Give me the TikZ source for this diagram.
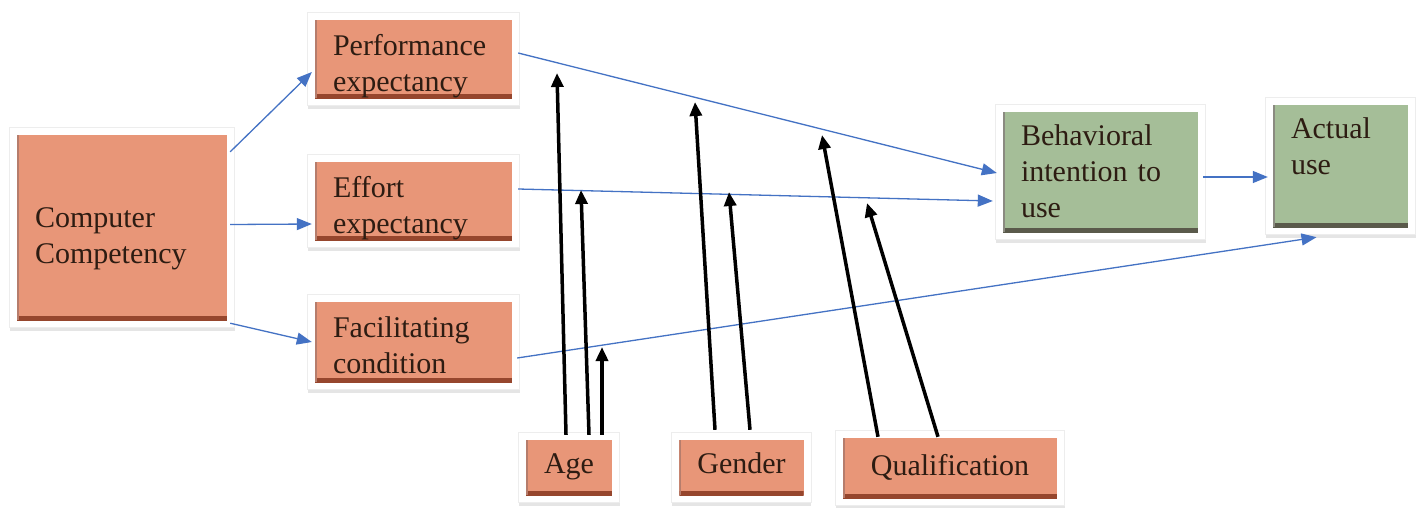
\documentclass[tikz,border=0pt]{standalone}
\usepackage{fontspec}
\setmainfont{Liberation Serif}
\usetikzlibrary{arrows.meta}

\definecolor{salmonfill}{RGB}{232,150,120}
\definecolor{salmonedge}{RGB}{150,70,45}
\definecolor{sagefill}{RGB}{165,190,152}
\definecolor{sageedge}{RGB}{90,90,75}
\definecolor{boxtext}{RGB}{45,28,18}
\definecolor{linkblue}{RGB}{68,114,196}

\tikzset{
    box/.style={rectangle, inner xsep=18pt, inner ysep=0pt,
        font=\fontsize{30}{36}\selectfont, text=boxtext,
        preaction={draw=black!10, line width=15pt, transform canvas={yshift=-3pt}},
        preaction={draw=black!7, line width=16.5pt},
        preaction={draw=white, line width=14pt}},
    orangebox/.style={box, fill=salmonfill,
        path picture={
            \draw[salmonedge, line width=8pt] (path picture bounding box.south west)
                -- (path picture bounding box.south east);
            \draw[salmonedge!70, line width=4pt] (path picture bounding box.south west)
                -- (path picture bounding box.north west);}},
    greenbox/.style={box, fill=sagefill,
        path picture={
            \draw[sageedge, line width=8pt] (path picture bounding box.south west)
                -- (path picture bounding box.south east);
            \draw[sageedge!70, line width=4pt] (path picture bounding box.south west)
                -- (path picture bounding box.north west);}},
    bluelink/.style={draw=linkblue, line width=1.3pt, -{Triangle[length=15pt,width=12pt]}},
    modlink/.style={draw=black, line width=3.5pt, -{Triangle[length=14pt,width=12pt]}}
}

\begin{document}
\begin{tikzpicture}[x=1pt, y=-1pt]
        \useasboundingbox[fill=white] (0,0) rectangle (1426,507);

        % Left column
        \node[orangebox, align=left, minimum width=210pt, minimum height=185pt,
            text width=174pt, text height=41pt, text depth=42pt]
            (comp) at (122,227.5) {Computer\\Competency};

        % Middle column
        \node[orangebox, align=left, minimum width=197pt, minimum height=78pt,
            text width=161pt, text height=34pt, text depth=42pt]
            (perf) at (413.5,59) {Performance\\expectancy};
        \node[orangebox, align=left, minimum width=197pt, minimum height=78pt,
            text width=161pt, text height=34pt, text depth=42pt]
            (effort) at (413.5,201) {Effort\\expectancy};
        \node[orangebox, align=left, minimum width=197pt, minimum height=80pt,
            text width=161pt, text height=32pt, text depth=42pt]
            (facil) at (413.5,342) {Facilitating\\condition};

        % Right column
        \node[greenbox, align=left, minimum width=195pt, minimum height=120pt,
            text width=159pt, text height=24pt, text depth=78pt]
            (behav) at (1100.5,172) {Behavioral\\intention to\\use};
        \node[greenbox, align=left, minimum width=135pt, minimum height=122pt,
            text width=99pt, text height=14pt, text depth=70pt]
            (actual) at (1340.5,166) {Actual\\use};

        % Moderators
        \node[orangebox, minimum width=86pt, minimum height=55pt,
            text height=20pt, text depth=9pt] (age) at (569,467.5) {Age};
        \node[orangebox, minimum width=123pt, minimum height=55pt,
            text height=20pt, text depth=9pt] (gender) at (741.5,467.5) {Gender};
        \node[orangebox, minimum width=214pt, minimum height=60pt,
            text height=20pt, text depth=6pt] (qualif) at (950,468) {Qualification};

        % Blue links
        \draw[bluelink] ([xshift=3pt,yshift=-17pt]comp.north east) -- ([xshift=-3pt,yshift=-13pt]perf.west);
        \draw[bluelink] ([xshift=3pt,yshift=3pt]comp.east) -- ([xshift=-3pt,yshift=-23pt]effort.west);
        \draw[bluelink] ([xshift=3pt,yshift=-3pt]comp.south east) -- ([xshift=-3pt]facil.west);
        \draw[bluelink] ([xshift=6pt,yshift=6pt]perf.east) -- ([xshift=-6pt,yshift=-1pt]behav.west);
        \draw[bluelink] ([xshift=6pt,yshift=12pt]effort.east) -- ([xshift=-10pt,yshift=-29pt]behav.west);
        \draw[bluelink] ([xshift=5pt,yshift=-16pt]facil.east) -- ([xshift=-24pt,yshift=-10pt]actual.south);
        \draw[bluelink] ([xshift=5pt,yshift=-5pt]behav.east) -- ([xshift=-5pt,yshift=-11pt]actual.west);

        % Moderating effects
        \coordinate (agetipA) at (557,73);
        \coordinate (agetipB) at (581,190);
        \coordinate (agetipC) at (602,347);
        \coordinate (gendertipA) at (695,102);
        \coordinate (gendertipB) at (729,192);
        \coordinate (qualtipA) at (822,135);
        \coordinate (qualtipB) at (867,203);

        \draw[modlink] ([xshift=-3pt,yshift=5pt]age.north) -- (agetipA);
        \draw[modlink] ([xshift=20pt,yshift=5pt]age.north) -- (agetipB);
        \draw[modlink] ([xshift=33pt,yshift=5pt]age.north) -- (agetipC);
        \draw[modlink] ([xshift=-26.5pt,yshift=10pt]gender.north) -- (gendertipA);
        \draw[modlink] ([xshift=8.5pt,yshift=10pt]gender.north) -- (gendertipB);
        \draw[modlink] ([xshift=-72pt,yshift=1pt]qualif.north) -- (qualtipA);
        \draw[modlink] ([xshift=-12pt,yshift=1pt]qualif.north) -- (qualtipB);
    \end{tikzpicture}
\end{document}
